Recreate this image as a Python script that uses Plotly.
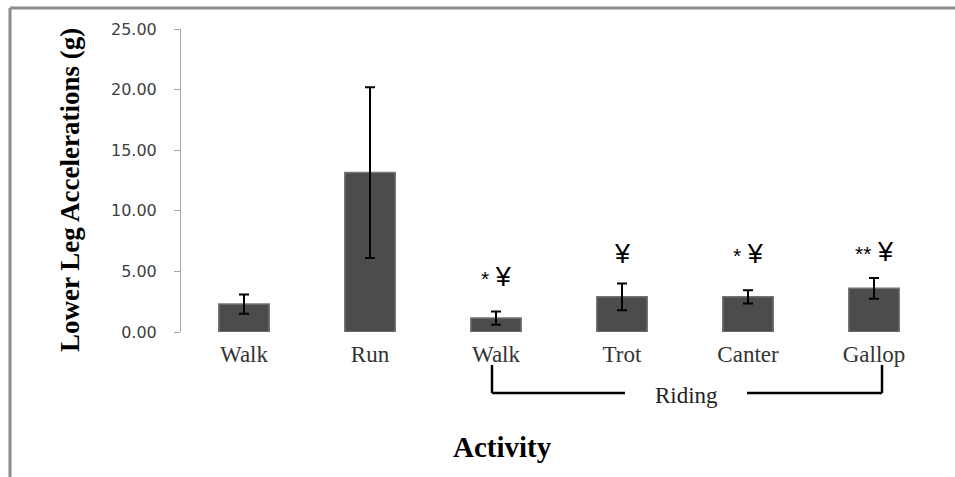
import plotly.graph_objects as go

# ---- data ----
tick_labels = ["Walk", "Run", "Walk", "Trot", "Canter", "Gallop"]
means = [2.30, 13.15, 1.15, 2.90, 2.90, 3.60]
errors = [0.80, 7.05, 0.55, 1.10, 0.55, 0.85]
sig_labels = ["", "", "* ¥", "¥", "* ¥", "** ¥"]
sig_heights = [0, 0, 4.5, 6.4, 6.4, 6.6]
y_ticks = [0, 5, 10, 15, 20, 25]

x_pos = list(range(len(tick_labels)))

W, H = 955, 477
L, R, T, B = 181, 18, 29, 145
pw, ph = W - L - R, H - T - B


def px(xp):
    return (xp - L) / pw


def py(yp):
    return (H - B - yp) / ph


SERIF = "Liberation Serif, Times New Roman, serif"
SANS = "DejaVu Sans, Verdana, sans-serif"

fig = go.Figure()
fig.add_trace(go.Bar(
    x=x_pos, y=means, width=0.4,
    marker=dict(color="#4c4c4c", line=dict(color="#737373", width=1.5)),
    error_y=dict(type="data", array=errors, color="black", thickness=2, width=5),
    showlegend=False, hoverinfo="skip",
))

annotations = []
for xi, lab, h in zip(x_pos, sig_labels, sig_heights):
    if not lab:
        continue
    parts = lab.split(" ")
    txt = (f"<span style='font-size:21px'>{parts[0]}</span> "
           f"<span style='font-size:27px'>{parts[1]}</span>") if len(parts) > 1 else \
          f"<span style='font-size:27px'>{parts[0]}</span>"
    annotations.append(dict(x=xi, y=h, xref="x", yref="y", text=txt, showarrow=False,
                            xanchor="center", yanchor="middle",
                            font=dict(family="Liberation Sans, Arial, sans-serif", size=24, color="black")))

annotations += [
    dict(x=px(70), y=py(190), xref="paper", yref="paper", text="<b>Lower Leg Accelerations (g)</b>",
         textangle=-90, showarrow=False, xanchor="center", yanchor="middle",
         font=dict(family=SERIF, size=27, color="black")),
    dict(x=px(502), y=py(447), xref="paper", yref="paper", text="<b>Activity</b>",
         showarrow=False, xanchor="center", yanchor="middle",
         font=dict(family=SERIF, size=29, color="black")),
    dict(x=px(686), y=py(396), xref="paper", yref="paper", text="Riding",
         showarrow=False, xanchor="center", yanchor="middle",
         font=dict(family=SERIF, size=23, color="#222")),
]

line_black = dict(color="black", width=2.5)
shapes = [
    # bracket
    dict(type="line", xref="paper", yref="paper", x0=px(492), x1=px(492), y0=py(365), y1=py(393), line=line_black),
    dict(type="line", xref="paper", yref="paper", x0=px(492), x1=px(625), y0=py(393), y1=py(393), line=line_black),
    dict(type="line", xref="paper", yref="paper", x0=px(747), x1=px(882), y0=py(393), y1=py(393), line=line_black),
    dict(type="line", xref="paper", yref="paper", x0=px(882), x1=px(882), y0=py(365), y1=py(393), line=line_black),
    # outer border
    dict(type="line", xref="paper", yref="paper", x0=px(10), x1=px(960), y0=py(8), y1=py(8),
         line=dict(color="#8c8c8c", width=3)),
    dict(type="line", xref="paper", yref="paper", x0=px(10), x1=px(10), y0=py(8), y1=py(480),
         line=dict(color="#8c8c8c", width=3)),
]

fig.update_layout(
    width=W, height=H,
    margin=dict(l=L, r=R, t=T, b=B),
    plot_bgcolor="white", paper_bgcolor="white",
    xaxis=dict(range=[-0.5, 5.5], tickvals=x_pos, ticktext=tick_labels, showline=False,
               showgrid=False, zeroline=False, ticks="",
               tickfont=dict(family=SERIF, size=23, color="#333"), ticklabelstandoff=6),
    yaxis=dict(range=[0, 25], tickvals=y_ticks, tickformat=".2f", showgrid=False, zeroline=False,
               showline=True, linecolor="#a6a6a6", linewidth=1, ticks="outside", ticklen=6,
               tickcolor="#a6a6a6", tickfont=dict(family=SANS, size=16, color="#404040"),
               ticklabelstandoff=14),
    annotations=annotations, shapes=shapes, bargap=0.6,
)

fig.write_html("out.html", config={"displayModeBar": False},
               post_script="document.body.style.margin='0px';document.body.style.overflow='hidden';")
